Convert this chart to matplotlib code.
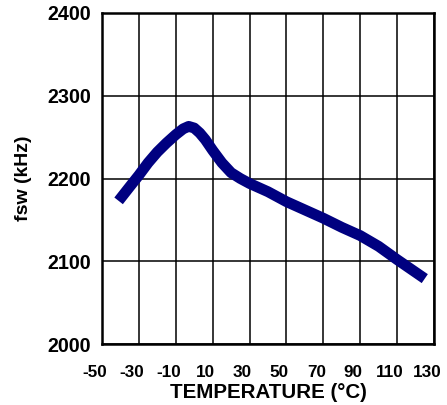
import matplotlib.pyplot as plt
from matplotlib.transforms import ScaledTranslation

# switching frequency over temperature
temp_c = [-41, -35, -30, -25, -20, -15, -10, -6, -3, 0, 3, 6, 10, 15, 20, 25, 30, 40, 50, 60, 70, 80, 90, 100, 110, 125]
fsw_khz = [2173, 2190, 2204, 2219, 2232, 2243, 2253, 2260, 2263, 2261, 2255, 2247, 2234, 2219, 2207, 2200, 2194, 2184, 2172, 2162, 2152, 2141, 2131, 2118, 2102, 2079]

x_ticks = [-50, -30, -10, 10, 30, 50, 70, 90, 110, 130]
y_ticks = [2000, 2100, 2200, 2300, 2400]

plt.rcParams['font.family'] = ['Liberation Sans', 'DejaVu Sans']

fig = plt.figure(figsize=(4.47, 4.05), dpi=100)
ax = fig.add_axes([102 / 447, 61 / 405, 332 / 447, 331 / 405])

ax.plot(temp_c, fsw_khz, color='#000080', linewidth=7.8,
        solid_capstyle='butt', solid_joinstyle='round', zorder=3)

ax.set_xlim(-50, 130)
ax.set_ylim(2000, 2400)
ax.set_xticks(x_ticks)
ax.set_yticks(y_ticks)
ax.set_xticklabels([str(t) for t in x_ticks], fontsize=12.3, fontweight='bold')
ax.set_yticklabels([str(t) for t in y_ticks], fontsize=14.2, fontweight='bold')
ax.tick_params(axis='x', length=0, pad=15)
ax.tick_params(axis='y', length=0, pad=8)

# nudge the x tick labels a little to the left so "130" stays inside
shift = ScaledTranslation(-7 / 100, 0, fig.dpi_scale_trans)
for lbl in ax.get_xticklabels():
    lbl.set_transform(lbl.get_transform() + shift)

ax.grid(True, color='black', linewidth=1.1)
for s in ax.spines.values():
    s.set_linewidth(1.8)

ax.set_xlabel('TEMPERATURE (°C)', fontsize=14.8, fontweight='bold', labelpad=2)
ax.set_ylabel('fsw (kHz)', fontsize=14, fontweight='bold', labelpad=11)

fig.savefig('out.png', dpi=100)
